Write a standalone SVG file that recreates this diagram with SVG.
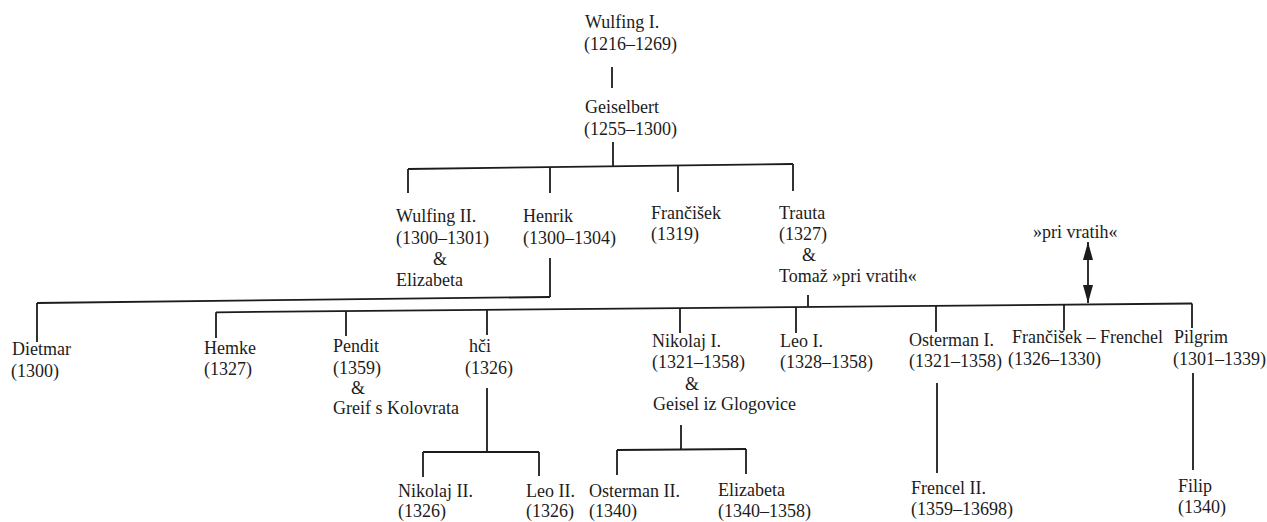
<svg xmlns="http://www.w3.org/2000/svg" width="1267" height="522" viewBox="0 0 1267 522">
<style>
text{font-family:"Liberation Serif","Times New Roman",serif;font-size:18px;fill:#1c1c1c}
.c line{stroke:#1c1c1c;stroke-width:1.8;fill:none}
</style>
<defs>
<marker id="ah" viewBox="0 0 18 10" refX="18" refY="5" markerWidth="18" markerHeight="10" markerUnits="userSpaceOnUse" orient="auto-start-reverse"><path d="M0,0 L18,5 L0,10 z" fill="#1c1c1c"/></marker>
</defs>
<rect width="1267" height="522" fill="#fff"/>
<g class="c" id="connectors">
<line x1="612" y1="67" x2="612" y2="88"/>
<line x1="613" y1="142" x2="613" y2="166"/>
<line x1="408" y1="169" x2="793" y2="164"/>
<line x1="408" y1="169" x2="408" y2="193"/>
<line x1="550" y1="167.2" x2="550" y2="193"/>
<line x1="678" y1="165.5" x2="678" y2="192"/>
<line x1="793" y1="164" x2="793" y2="191"/>
<line x1="550" y1="258" x2="550" y2="297"/>
<line x1="550" y1="297" x2="37" y2="303"/>
<line x1="37" y1="303" x2="37" y2="342"/>
<line x1="808" y1="295" x2="808" y2="306.5"/>
<line x1="216" y1="312.3" x2="1192" y2="303.5"/>
<line x1="216" y1="312.3" x2="216" y2="338"/>
<line x1="346" y1="311" x2="346" y2="336"/>
<line x1="487" y1="309.8" x2="487" y2="335"/>
<line x1="680" y1="308" x2="680" y2="333"/>
<line x1="796" y1="307" x2="796" y2="333"/>
<line x1="936" y1="305.7" x2="936" y2="332"/>
<line x1="1064" y1="304.6" x2="1064" y2="330"/>
<line x1="1192" y1="303.5" x2="1192" y2="328"/>
<line x1="1088" y1="242" x2="1088" y2="303" marker-start="url(#ah)" marker-end="url(#ah)"/>
<line x1="487" y1="388" x2="487" y2="452"/>
<line x1="423" y1="452" x2="539" y2="452"/>
<line x1="423" y1="452" x2="423" y2="477"/>
<line x1="539" y1="452" x2="539" y2="476"/>
<line x1="681" y1="425" x2="681" y2="450"/>
<line x1="617" y1="450" x2="746" y2="449"/>
<line x1="617" y1="450" x2="617" y2="475"/>
<line x1="746" y1="449" x2="746" y2="474"/>
<line x1="937" y1="383" x2="937" y2="473"/>
<line x1="1193" y1="373" x2="1193" y2="470"/>
</g>
<g id="wulfing1"><text x="585" y="28">Wulfing I.</text><text x="584" y="50">(1216–1269)</text></g>
<g id="geiselbert"><text x="585" y="113">Geiselbert</text><text x="584" y="135">(1255–1300)</text></g>
<g id="wulfing2"><text x="396" y="222">Wulfing II.</text><text x="396" y="244">(1300–1301)</text><text x="433" y="265">&amp;</text><text x="396" y="286">Elizabeta</text></g>
<g id="henrik"><text x="523" y="222">Henrik</text><text x="523" y="244">(1300–1304)</text></g>
<g id="francisek"><text x="651" y="219">Frančišek</text><text x="651" y="240">(1319)</text></g>
<g id="trauta"><text x="779" y="219">Trauta</text><text x="779" y="240">(1327)</text><text x="802" y="261">&amp;</text><text x="779" y="282">Tomaž »pri vratih«</text></g>
<g id="privratih"><text x="1033" y="238">»pri vratih«</text></g>
<g id="dietmar"><text x="12" y="355">Dietmar</text><text x="11" y="377">(1300)</text></g>
<g id="hemke"><text x="204" y="354">Hemke</text><text x="204" y="375">(1327)</text></g>
<g id="pendit"><text x="333" y="352">Pendit</text><text x="333" y="374">(1359)</text><text x="351" y="394">&amp;</text><text x="333" y="414">Greif s Kolovrata</text></g>
<g id="hci"><text x="469" y="352">hči</text><text x="465" y="374">(1326)</text></g>
<g id="nikolaj1"><text x="652" y="347">Nikolaj I.</text><text x="652" y="368">(1321–1358)</text><text x="685" y="390">&amp;</text><text x="653" y="410">Geisel iz Glogovice</text></g>
<g id="leo1"><text x="780" y="347">Leo I.</text><text x="780" y="368">(1328–1358)</text></g>
<g id="osterman1"><text x="909" y="346">Osterman I.</text><text x="909" y="367">(1321–1358)</text></g>
<g id="frenchel"><text x="1012" y="343">Frančišek – Frenchel</text><text x="1008" y="365">(1326–1330)</text></g>
<g id="pilgrim"><text x="1174" y="343">Pilgrim</text><text x="1173" y="365">(1301–1339)</text></g>
<g id="nikolaj2"><text x="398" y="497">Nikolaj II.</text><text x="398" y="517">(1326)</text></g>
<g id="leo2"><text x="526" y="497">Leo II.</text><text x="526" y="517">(1326)</text></g>
<g id="osterman2"><text x="589" y="497">Osterman II.</text><text x="589" y="517">(1340)</text></g>
<g id="elizabeta2"><text x="718" y="496">Elizabeta</text><text x="718" y="517">(1340–1358)</text></g>
<g id="frencel2"><text x="911" y="494">Frencel II.</text><text x="911" y="515">(1359–13698)</text></g>
<g id="filip"><text x="1178" y="492">Filip</text><text x="1178" y="513">(1340)</text></g>
</svg>
